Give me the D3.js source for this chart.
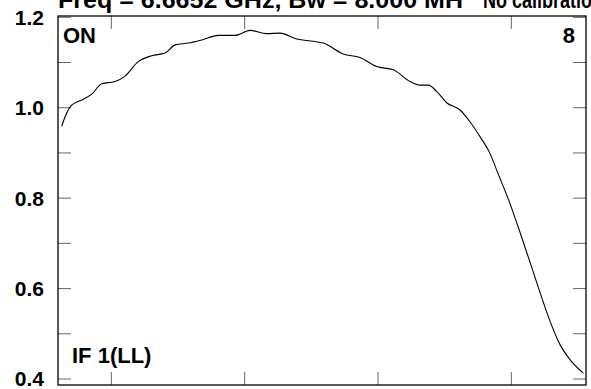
<!DOCTYPE html>
<html>
<head>
<meta charset="utf-8">
<script src="https://cdn.jsdelivr.net/npm/d3@7"></script>
<style>
  html, body { margin: 0; padding: 0; background: #fff; overflow: hidden; }
  svg { display: block; }
  text { font-family: "Liberation Sans", Arial, sans-serif; font-weight: bold; fill: #000; }
</style>
</head>
<body>
<svg id="chart" width="591" height="389"></svg>
<script>
// ---- data ----
const titleMain = "Freq = 6.6652 GHz, Bw = 8.000 MH";
const titleNote = "No calibration";
const channels = [2.8, 5.3, 10.3, 17.8, 25.3, 32.8, 42.8, 50.3, 60.2, 70.3, 80.3, 87.8, 97.7, 107.8, 120.2, 132.8,
  144, 156.5, 166.5, 179, 191.5, 199, 214, 226.5, 239, 251.5, 264, 271.5, 277.7, 284, 291.5, 301.5, 309,
  316.5, 324, 329, 339, 347.8, 355.3, 362.8, 369, 376.5, 384, 394];
const amplitude = [0.959, 0.980, 1.006, 1.017, 1.030, 1.053, 1.058, 1.070, 1.102, 1.115, 1.121, 1.139, 1.143, 1.150, 1.160, 1.160,
  1.171, 1.164, 1.165, 1.152, 1.147, 1.143, 1.119, 1.111, 1.091, 1.084, 1.058, 1.050, 1.050, 1.036, 1.011, 0.995, 0.969,
  0.936, 0.899, 0.862, 0.788, 0.713, 0.647, 0.580, 0.528, 0.476, 0.443, 0.413];
const xTicks = [40, 140, 240, 340];
const yTicks = [0.4, 0.5, 0.6, 0.7, 0.8, 0.9, 1.0, 1.1, 1.2];
const yLabels = [0.4, 0.6, 0.8, 1.0, 1.2];
const cornerLabels = { topLeft: "ON", topRight: "8", bottomLeft: "IF 1(LL)" };

// ---- layout ----
const L = 58, R = 586, T = 16, B = 385;
const svg = d3.select("#chart");
const x = d3.scaleLinear().domain([0, 396]).range([L, R]);
const y = d3.scaleLinear().domain([0.3867, 1.2029]).range([B, T]);

// ticks (inward on all four sides)
const tickLen = 13;
const gT = svg.append("g").attr("stroke", "#666").attr("stroke-width", 1);
xTicks.forEach(t => {
  gT.append("line").attr("x1", x(t)).attr("x2", x(t)).attr("y1", T).attr("y2", T + tickLen);
  gT.append("line").attr("x1", x(t)).attr("x2", x(t)).attr("y1", B).attr("y2", B - tickLen);
});
yTicks.forEach(t => {
  gT.append("line").attr("x1", L).attr("x2", L + tickLen).attr("y1", y(t)).attr("y2", y(t));
  gT.append("line").attr("x1", R).attr("x2", R - tickLen).attr("y1", y(t)).attr("y2", y(t));
});

// frame
svg.append("rect").attr("x", L).attr("y", T).attr("width", R - L).attr("height", B - T)
  .attr("fill", "none").attr("stroke", "#000").attr("stroke-width", 1.3);

// y labels
svg.append("g").selectAll("text").data(yLabels).join("text")
  .attr("x", 44).attr("y", d => y(d) + 7.5)
  .attr("text-anchor", "end").attr("font-size", 21)
  .text(d => d3.format(".1f")(d));

// curve
const line = d3.line().x((d, i) => x(channels[i])).y(d => y(d)).curve(d3.curveMonotoneX);
svg.append("path").datum(amplitude).attr("d", line)
  .attr("fill", "none").attr("stroke", "#000").attr("stroke-width", 1.1);

// title (partly above the window, as in the reference)
svg.append("text").attr("x", 58).attr("y", 8).attr("font-size", 24)
  .attr("textLength", 405).attr("lengthAdjust", "spacingAndGlyphs").text(titleMain);
svg.append("text").attr("x", 483).attr("y", 8).attr("font-size", 24)
  .attr("textLength", 120).attr("lengthAdjust", "spacingAndGlyphs").text(titleNote);

// corner labels
svg.append("text").attr("x", 63).attr("y", 43).attr("font-size", 22).text(cornerLabels.topLeft);
svg.append("text").attr("x", 575).attr("y", 43).attr("text-anchor", "end").attr("font-size", 22).text(cornerLabels.topRight);
svg.append("text").attr("x", 72).attr("y", 363).attr("font-size", 22).text(cornerLabels.bottomLeft);
</script>
</body>
</html>
